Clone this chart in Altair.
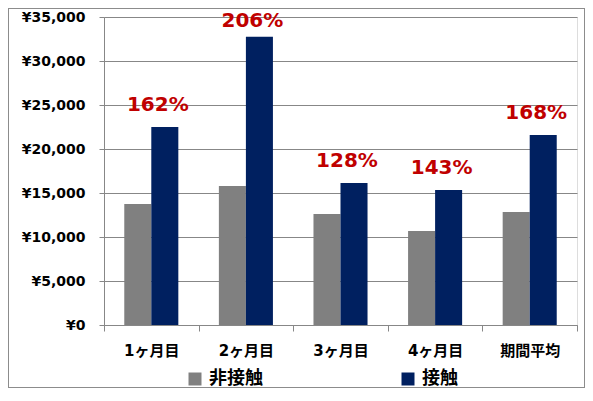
import altair as alt
import pandas as pd

months = ["1ヶ月目", "2ヶ月目", "3ヶ月目", "4ヶ月目", "期間平均"]
series = ["非接触", "接触"]
non_contact = [13750, 15800, 12600, 10680, 12840]
contact = [22500, 32750, 16150, 15350, 21600]
ratio_labels = ["162%", "206%", "128%", "143%", "168%"]
colors = ["#808080", "#002060"]

rows = []
for m, a, b in zip(months, non_contact, contact):
    rows.append({"month": m, "series": series[0], "value": a})
    rows.append({"month": m, "series": series[1], "value": b})
df = pd.DataFrame(rows)

lab = pd.DataFrame({"month": months, "series": [series[1]] * len(months),
                    "value": contact, "label": ratio_labels})

FONT = "DejaVu Sans, Noto Sans CJK JP"
GRID = "#878787"

x_enc = alt.X("month:N", sort=months,
              scale=alt.Scale(paddingInner=0, paddingOuter=0),
              axis=alt.Axis(title=None, labelAngle=0, tickBand="extent",
                            tickSize=6, labelPadding=12, labelFontSize=15,
                            labelFont=FONT, labelFontWeight="bold",
                            labelColor="#000000", domainColor=GRID,
                            tickColor=GRID, grid=False))
xo_enc = alt.XOffset("series:N", sort=series,
                     scale=alt.Scale(paddingInner=0, paddingOuter=0.75))
y_enc = alt.Y("value:Q", scale=alt.Scale(domain=[0, 35000], nice=False),
              axis=alt.Axis(title=None, values=list(range(0, 35001, 5000)),
                            labelExpr="'¥' + format(datum.value, ',')",
                            tickSize=5, labelPadding=14, labelFontSize=14,
                            labelFont=FONT, labelFontWeight="bold",
                            labelColor="#000000", domainColor=GRID,
                            tickColor=GRID, gridColor=GRID, grid=True))

bars = alt.Chart(df).mark_bar().encode(
    x=x_enc, xOffset=xo_enc, y=y_enc,
    color=alt.Color("series:N", sort=series,
                    scale=alt.Scale(domain=series, range=colors),
                    legend=alt.Legend(title=None, orient="none", legendX=82,
                                      legendY=353, direction="horizontal",
                                      symbolType="square", symbolSize=169,
                                      symbolStrokeWidth=0, labelFontSize=18,
                                      labelFont=FONT, labelFontWeight="bold",
                                      labelColor="#000000", labelOffset=5,
                                      columnPadding=136, padding=0)),
)

texts = alt.Chart(lab).transform_calculate(
    ly="min(datum.value, 32000)"
).mark_text(font=FONT, fontWeight="bold", fontSize=20,
            color="#C00000", dy=-22, dx=-7, baseline="middle").encode(
    x=alt.X("month:N", sort=months), xOffset=alt.XOffset("series:N", sort=series),
    y="ly:Q", text="label:N")

frame = alt.Chart(lab).mark_rect(fill="transparent", stroke="#8c8c8c",
                                 strokeWidth=1).encode(
    x=alt.value(-95.5), x2=alt.value(480.5), y=alt.value(-8.5), y2=alt.value(370.5))

chart = alt.layer(bars, texts, frame).properties(
    width=473, height=308,
    autosize=alt.AutoSizeParams(type="none"),
    padding={"left": 96, "top": 9, "right": 8, "bottom": 63},
).configure_view(stroke=None).configure(background="white")

chart.save("out.html", embed_options={"renderer": "svg", "actions": False})
